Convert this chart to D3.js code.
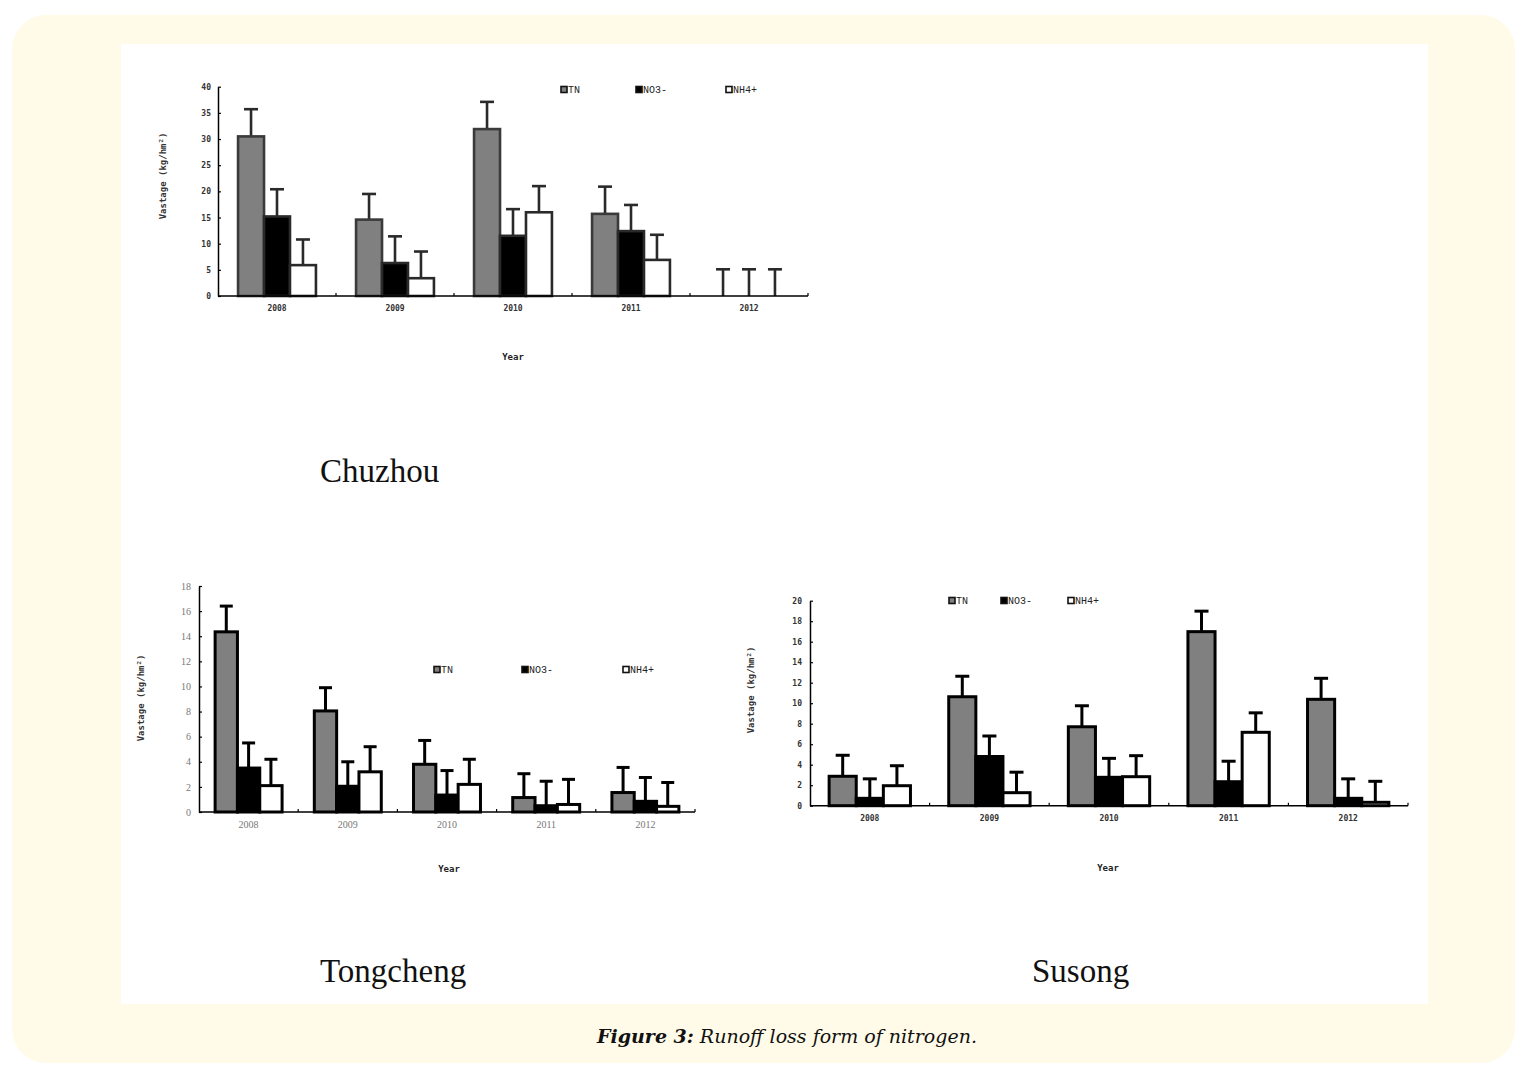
<!DOCTYPE html>
<html><head><meta charset="utf-8">
<script src="https://cdn.jsdelivr.net/npm/d3@7"></script>
<style>html,body{margin:0;padding:0;background:#fff;}svg{display:block;}</style>
</head><body>
<svg id="c" width="1527" height="1065"></svg>
<script>
const years = ["2008","2009","2010","2011","2012"];
const seriesNames = ["TN","NO3-","NH4+"];

const chuzhouTN  = [30.5, 14.6, 31.9, 15.7, 0];
const chuzhouNO3 = [15.2, 6.3, 11.5, 12.4, 0];
const chuzhouNH4 = [5.9, 3.4, 16.0, 6.9, 0];
const chuzhouErrTN  = [5.2, 4.9, 5.2, 5.2, 5.1];
const chuzhouErrNO3 = [5.2, 5.1, 5.1, 5.0, 5.1];
const chuzhouErrNH4 = [4.9, 5.1, 5.0, 4.8, 5.1];
const chuzhouTicks = [0,5,10,15,20,25,30,35,40];

const tongchengTN  = [14.35, 8.05, 3.8, 1.15, 1.55];
const tongchengNO3 = [3.5, 2.05, 1.35, 0.5, 0.85];
const tongchengNH4 = [2.1, 3.2, 2.2, 0.6, 0.45];
const tongchengErrTN  = [2.05, 1.85, 1.9, 1.9, 2.0];
const tongchengErrNO3 = [2.0, 1.95, 1.95, 1.95, 1.9];
const tongchengErrNH4 = [2.1, 2.0, 2.0, 2.0, 1.9];
const tongchengTicks = [0,2,4,6,8,10,12,14,16,18];

const susongTN  = [2.87, 10.63, 7.7, 16.98, 10.38];
const susongNO3 = [0.72, 4.8, 2.77, 2.34, 0.72];
const susongNH4 = [1.95, 1.27, 2.83, 7.16, 0.33];
const susongErrTN  = [2.05, 2.0, 2.05, 2.0, 2.05];
const susongErrNO3 = [1.9, 2.0, 1.85, 2.0, 1.9];
const susongErrNH4 = [1.95, 2.0, 2.05, 1.9, 2.05];
const susongTicks = [0,2,4,6,8,10,12,14,16,18,20];

const svg = d3.select("#c");
svg.append("rect").attr("x",12).attr("y",15).attr("width",1503).attr("height",1048).attr("rx",34).attr("fill","#fffbe8");
svg.append("rect").attr("x",121).attr("y",44).attr("width",1307).attr("height",960).attr("fill","#fff");

const mono = "'DejaVu Sans Mono','Liberation Mono',monospace";
const courier = "'Liberation Mono','DejaVu Sans Mono',monospace";

function drawChart(o){
  const g = svg.append("g");
  const x = d3.scaleBand().domain(years).range([o.x0,o.x1]).paddingInner(0).paddingOuter(0);
  const y = d3.scaleLinear().domain([0,o.ymax]).range([o.y0,o.yTop]);
  const gw = x.bandwidth()*o.groupFrac;
  const xs = d3.scaleBand().domain(seriesNames).range([0,gw]);
  const fills = ["#808080","#000","#fff"];
  const vals = [o.tn,o.no3,o.nh4];
  const errs = [o.etn,o.eno3,o.enh4];
  const capW = o.capW;

  seriesNames.forEach((s,si)=>{
    years.forEach((yr,i)=>{
      const cx = x(yr) + (x.bandwidth()-gw)/2 + xs(s) + xs.bandwidth()/2;
      const v = vals[si][i], e = errs[si][i];
      g.append("line").attr("x1",cx).attr("x2",cx).attr("y1",y(v)).attr("y2",y(v+e))
        .attr("stroke",o.stroke).attr("stroke-width",o.sw);
      g.append("line").attr("x1",cx-capW/2).attr("x2",cx+capW/2).attr("y1",y(v+e)).attr("y2",y(v+e))
        .attr("stroke",o.stroke).attr("stroke-width",o.sw);
    });
  });
  seriesNames.forEach((s,si)=>{
    years.forEach((yr,i)=>{
      const v = vals[si][i];
      if(v<=0) return;
      const bx = x(yr) + (x.bandwidth()-gw)/2 + xs(s);
      g.append("rect").attr("x",bx).attr("y",y(v)).attr("width",xs.bandwidth()).attr("height",y(0)-y(v))
        .attr("fill",fills[si]).attr("stroke",si===0?o.tnStroke:o.stroke).attr("stroke-width",o.sw);
    });
  });

  const ya = g.append("g").attr("transform",`translate(${o.x0},0)`)
    .call(d3.axisLeft(y).tickValues(o.ticks).tickSizeInner(-3).tickSizeOuter(0).tickPadding(o.tickPad));
  ya.select(".domain").attr("stroke","#000").attr("stroke-width",1.5);
  ya.selectAll(".tick line").attr("stroke","#000").attr("stroke-width",1.2);
  ya.selectAll(".tick text").attr("font-family",o.tickFont).attr("font-size",o.tickSize)
    .attr("fill",o.tickColor).attr("font-weight",o.tickWeight||"normal");

  g.append("line").attr("x1",o.x0).attr("x2",o.x1).attr("y1",o.y0).attr("y2",o.y0)
    .attr("stroke","#000").attr("stroke-width",1.5);
  years.forEach(yr=>{
    const bx = x(yr)+x.bandwidth();
    g.append("line").attr("x1",bx).attr("x2",bx).attr("y1",o.y0).attr("y2",o.y0-3).attr("stroke","#000").attr("stroke-width",1.2);
  });
  const xa = g.append("g").attr("transform",`translate(0,${o.y0})`)
    .call(d3.axisBottom(x).tickSize(0).tickPadding(o.xPad));
  xa.select(".domain").remove();
  xa.selectAll(".tick text").attr("font-family",o.tickFont).attr("font-size",o.tickSize)
    .attr("fill",o.tickColor).attr("font-weight",o.tickWeight||"normal");

  g.append("text").attr("transform",`translate(${o.ylx},${o.yly}) rotate(-90)`)
    .attr("text-anchor","middle").attr("dominant-baseline","middle")
    .attr("font-family",mono).attr("font-size",9).attr("font-weight","bold").attr("fill","#333")
    .text("Vastage (kg/hm²)");
  g.append("text").attr("x",o.xlx).attr("y",o.xly).attr("text-anchor","middle")
    .attr("font-family",mono).attr("font-size",9).attr("font-weight","bold").attr("fill","#222")
    .text("Year");

  seriesNames.forEach((s,si)=>{
    const lx = o.legX[si], ly = o.legY;
    g.append("rect").attr("x",lx).attr("y",ly-3.5).attr("width",6).attr("height",6)
      .attr("fill",fills[si]).attr("stroke","#111").attr("stroke-width",1.6);
    g.append("text").attr("x",lx+7).attr("y",ly).attr("dominant-baseline","middle")
      .attr("font-family",courier).attr("font-size",10).attr("fill","#222").text(s);
  });

  svg.append("text").attr("x",o.nameX).attr("y",o.nameY)
    .attr("font-family","'Liberation Serif','DejaVu Serif',serif").attr("font-size",o.nameSize).attr("fill","#111")
    .text(o.name);
}

drawChart({name:"Chuzhou", nameX:320, nameY:482, nameSize:33,
  x0:218, x1:808, y0:296, yTop:86.7, ymax:40, ticks:chuzhouTicks, groupFrac:0.66,
  tn:chuzhouTN, no3:chuzhouNO3, nh4:chuzhouNH4, etn:chuzhouErrTN, eno3:chuzhouErrNO3, enh4:chuzhouErrNH4,
  stroke:"#2a2a2a", tnStroke:"#3a3a3a", sw:2.6, capW:14,
  tickFont:mono, tickSize:8, tickColor:"#333", tickWeight:"bold", tickPad:7, xPad:9,
  ylx:163, yly:176, xlx:513, xly:360, legX:[561,636,726], legY:90});

drawChart({name:"Tongcheng", nameX:320, nameY:982, nameSize:33,
  x0:199, x1:695, y0:812, yTop:586, ymax:18, ticks:tongchengTicks, groupFrac:0.675,
  tn:tongchengTN, no3:tongchengNO3, nh4:tongchengNH4, etn:tongchengErrTN, eno3:tongchengErrNO3, enh4:tongchengErrNH4,
  stroke:"#000", tnStroke:"#000", sw:3, capW:13,
  tickFont:"'Liberation Serif',serif", tickSize:10, tickColor:"#777", tickPad:8, xPad:9,
  ylx:141, yly:698, xlx:449, xly:872, legX:[434,522,623], legY:670});

drawChart({name:"Susong", nameX:1032, nameY:982, nameSize:33,
  x0:810, x1:1408, y0:805.7, yTop:600.7, ymax:20, ticks:susongTicks, groupFrac:0.68,
  tn:susongTN, no3:susongNO3, nh4:susongNH4, etn:susongErrTN, eno3:susongErrNO3, enh4:susongErrNH4,
  stroke:"#000", tnStroke:"#000", sw:3, capW:14,
  tickFont:mono, tickSize:8, tickColor:"#333", tickWeight:"bold", tickPad:8, xPad:10,
  ylx:751, yly:690, xlx:1108, xly:871, legX:[949,1001,1068], legY:601});

const cap = svg.append("text").attr("x",787).attr("y",1043).attr("text-anchor","middle")
  .attr("font-family","'DejaVu Serif','Liberation Serif',serif").attr("font-size",19).attr("font-style","italic").attr("fill","#111");
cap.append("tspan").attr("font-weight","bold").text("Figure 3:");
cap.append("tspan").text(" Runoff loss form of nitrogen.");
</script>
</body></html>
